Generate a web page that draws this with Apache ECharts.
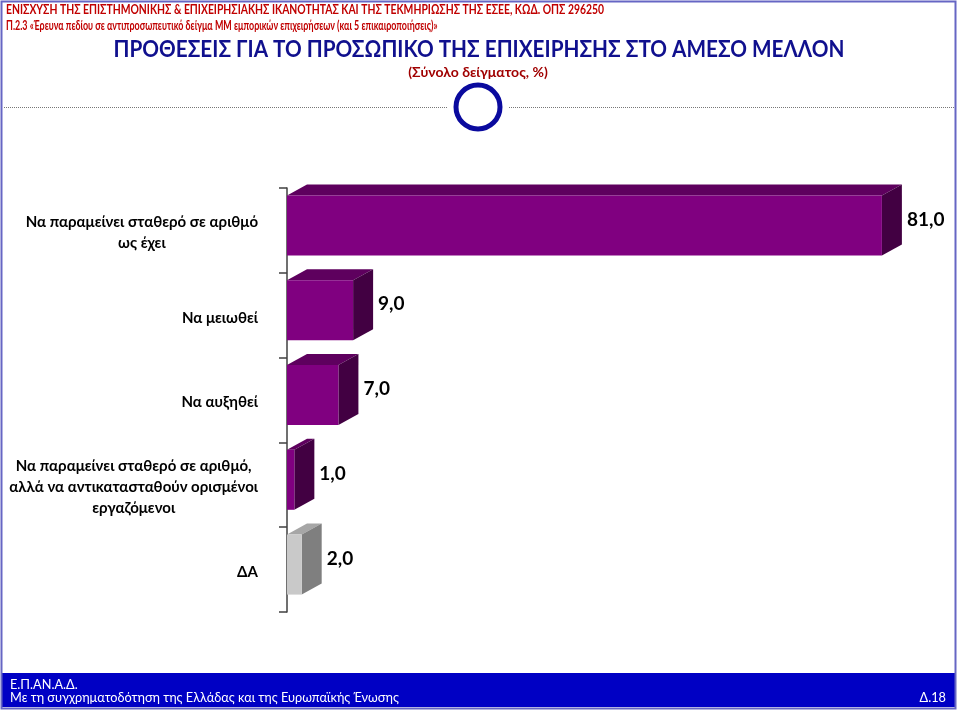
<!DOCTYPE html>
<html><head><meta charset="utf-8">
<script src="https://cdn.jsdelivr.net/npm/echarts@6/dist/echarts.min.js"></script>
<style>html,body{margin:0;padding:0;background:#fff}#c{width:960px;height:712px}</style>
</head><body><div id="c"></div>
<script>
const categories = [
  'Να παραμείνει σταθερό σε αριθμό\nως έχει',
  'Να μειωθεί',
  'Να αυξηθεί',
  'Να παραμείνει σταθερό σε αριθμό,\nαλλά να αντικατασταθούν ορισμένοι\nεργαζόμενοι',
  'ΔΑ'
];
const values = [81.0, 9.0, 7.0, 1.0, 2.0];

const headerLine1 = 'ΕΝΙΣΧΥΣΗ ΤΗΣ ΕΠΙΣΤΗΜΟΝΙΚΗΣ & ΕΠΙΧΕΙΡΗΣΙΑΚΗΣ ΙΚΑΝΟΤΗΤΑΣ ΚΑΙ ΤΗΣ ΤΕΚΜΗΡΙΩΣΗΣ ΤΗΣ ΕΣΕΕ, ΚΩΔ. ΟΠΣ 296250';
const headerLine2 = 'Π.2.3 «Έρευνα πεδίου σε αντιπροσωπευτικό δείγμα ΜΜ εμπορικών επιχειρήσεων (και 5 επικαιροποιήσεις)»';
const titleText = 'ΠΡΟΘΕΣΕΙΣ ΓΙΑ ΤΟ ΠΡΟΣΩΠΙΚΟ ΤΗΣ ΕΠΙΧΕΙΡΗΣΗΣ ΣΤΟ ΑΜΕΣΟ ΜΕΛΛΟΝ';
const subtitleText = '(Σύνολο δείγματος, %)';
const footer1 = 'Ε.Π.ΑΝ.Α.Δ.';
const footer2 = 'Με τη συγχρηματοδότηση της Ελλάδας και της Ευρωπαϊκής Ένωσης';
const footerRight = 'Δ.18';

const FONT = "Lato, 'Open Sans', 'Noto Sans', sans-serif";
const chart = echarts.init(document.getElementById('c'));

function renderItem(params, api) {
  const idx = api.value(1);
  const v = api.value(0);
  const p0 = api.coord([0, idx]);
  const p1 = api.coord([v, idx]);
  const x0 = p0[0], x1 = p1[0], yc = p0[1];
  const dx = 20, dy = 11;
  const yt = yc - 35, yb = yc + 25;
  const grey = categories[idx] === 'ΔΑ';
  const front = grey ? '#c9c9c9' : '#800080';
  const top = grey ? '#a6a6a6' : '#5e005e';
  const side = grey ? '#7f7f7f' : '#420042';
  return {
    type: 'group',
    children: [
      { type: 'polygon', shape: { points: [[x0, yt], [x1, yt], [x1 + dx, yt - dy], [x0 + dx, yt - dy]] }, style: { fill: top } },
      { type: 'polygon', shape: { points: [[x1, yt], [x1 + dx, yt - dy], [x1 + dx, yb - dy], [x1, yb]] }, style: { fill: side } },
      { type: 'rect', shape: { x: x0, y: yt, width: x1 - x0, height: yb - yt }, style: { fill: front } },
      { type: 'text', x: x1 + dx + 5, y: yc - 11, style: { text: v.toFixed(1).replace('.', ','), fill: '#000', font: 'bold 19px ' + FONT, textAlign: 'left', textVerticalAlign: 'middle' } }
    ]
  };
}

const option = {
  backgroundColor: '#fff',
  animation: false,
  grid: { left: 287, top: 188, height: 424, width: 661 },
  xAxis: { type: 'value', min: 0, max: 90, show: false },
  yAxis: {
    type: 'category', data: categories, inverse: true, offset: 17,
    axisLine: { show: true, lineStyle: { color: '#404040', width: 1.5 } },
    axisTick: { show: true, length: 8, lineStyle: { color: '#404040', width: 1.5 } },
    axisLabel: {
      margin: 12, align: 'right',
      formatter: (s) => s.split('\n').map(l => '{c|' + l + '}').join('\n'),
      rich: { c: { align: 'center', fontFamily: FONT, fontSize: 15, fontWeight: 'bold', color: '#000', lineHeight: 21, padding: [5, 0, 0, 0] } }
    }
  },
  series: [{
    type: 'custom',
    renderItem: renderItem,
    data: values.map((v, i) => [v, i]),
    encode: { x: 0, y: 1 },
    clip: false
  }],
  graphic: [
    { type: 'rect', shape: { x: 1.5, y: 1.5, width: 954, height: 707 }, style: { fill: 'none', stroke: '#6666c4', lineWidth: 2 }, z: 10 },
    { type: 'text', x: 6, y: 10, scaleX: 0.83, style: { text: headerLine1, fill: '#c00000', font: 'bold 12.5px ' + FONT, textVerticalAlign: 'middle' } },
    { type: 'text', x: 6, y: 26, scaleX: 0.715, style: { text: headerLine2, fill: '#c00000', font: 'bold 12.5px ' + FONT, textVerticalAlign: 'middle' } },
    { type: 'text', x: 479, y: 50, scaleX: 0.9, style: { text: titleText, fill: '#10108e', font: 'bold 23px ' + FONT, textAlign: 'center', textVerticalAlign: 'middle' } },
    { type: 'text', x: 478, y: 72, style: { text: subtitleText, fill: '#a00000', font: 'bold 14px ' + FONT, textAlign: 'center', textVerticalAlign: 'middle' } },
    { type: 'line', shape: { x1: 4, y1: 107.5, x2: 447, y2: 107.5 }, style: { stroke: '#777', lineWidth: 1, lineDash: [1, 1] } },
    { type: 'line', shape: { x1: 509, y1: 107.5, x2: 954, y2: 107.5 }, style: { stroke: '#777', lineWidth: 1, lineDash: [1, 1] } },
    { type: 'circle', shape: { cx: 478, cy: 107, r: 22 }, style: { fill: '#fff', stroke: '#0a0a9e', lineWidth: 5 } },
    { type: 'rect', shape: { x: 2, y: 673, width: 953, height: 34 }, style: { fill: '#0000c4' } },
    { type: 'text', x: 10, y: 684, scaleX: 0.91, style: { text: footer1, fill: '#fff', font: '14px ' + FONT, textVerticalAlign: 'middle' } },
    { type: 'text', x: 10, y: 697, scaleX: 0.91, style: { text: footer2, fill: '#fff', font: '14px ' + FONT, textVerticalAlign: 'middle' } },
    { type: 'text', x: 946, y: 697, scaleX: 0.91, style: { text: footerRight, fill: '#fff', font: '14px ' + FONT, textAlign: 'right', textVerticalAlign: 'middle' } }
  ]
};
chart.setOption(option);
</script></body></html>
